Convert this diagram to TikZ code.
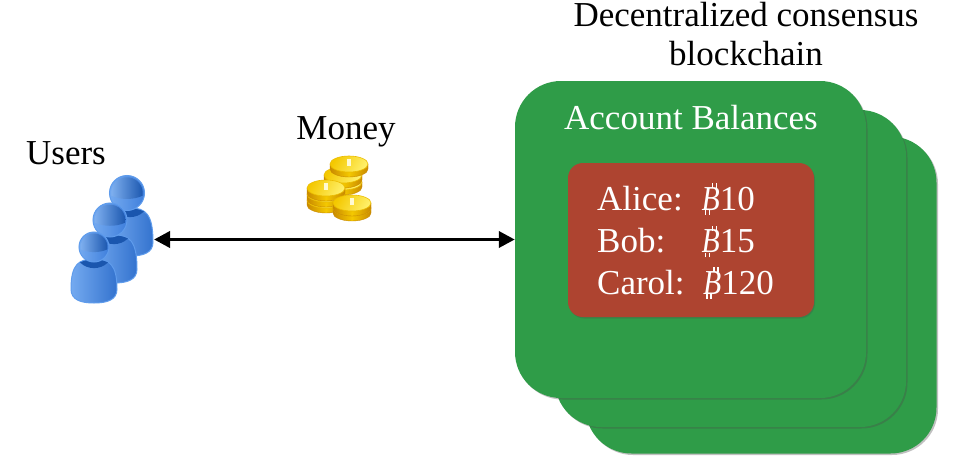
\documentclass[tikz,border=0pt]{standalone}
\usepackage{fontspec}
\setmainfont{Liberation Serif}
\usetikzlibrary{shadows,arrows.meta}
\definecolor{cardgreen}{HTML}{2F9C48}
\definecolor{cardred}{HTML}{AE4430}
\definecolor{pdark}{HTML}{1A56AE}
\definecolor{pmid}{HTML}{3F7FDC}
\definecolor{plight}{HTML}{74AAF0}
\definecolor{pedge}{HTML}{5F9CEC}
\definecolor{gdark}{HTML}{C98A00}
\definecolor{gmid}{HTML}{F4C800}
\definecolor{glight}{HTML}{FFF06A}
\newcommand{\btc}{\leavevmode\scalebox{.85}[1]{\rlap{\kern.33em\raisebox{.63em}{\rule{.055em}{.14em}}\kern.08em\raisebox{.63em}{\rule{.055em}{.14em}}}\rlap{\kern.10em\raisebox{-.13em}{\rule{.055em}{.13em}}\kern.08em\raisebox{-.13em}{\rule{.055em}{.13em}}}\textit{B}}}
\newcommand{\personfig}[7]{%
 \path[draw=pedge,line width=1pt,left color=plight,right color=pmid!70!pdark]
  (#4,#7-14) .. controls (#4,#6+5) and ({(#4+#5)/2-15},#6) .. ({(#4+#5)/2},#6)
  .. controls ({(#4+#5)/2+15},#6) and (#5,#6+5) .. (#5,#7-14)
  .. controls (#5,#7-3) and (#5-10,#7) .. ({(#4+#5)/2},#7)
  .. controls (#4+10,#7) and (#4,#7-3) .. (#4,#7-14) -- cycle;
 \path[fill=pdark] ({(#4+#5)/2-14},#6+3.5) .. controls ({(#4+#5)/2-6},#6-.5) and ({(#4+#5)/2+6},#6-.5) .. ({(#4+#5)/2+14},#6+3.5)
  .. controls ({(#4+#5)/2+6},#6+11) and ({(#4+#5)/2-6},#6+11) .. ({(#4+#5)/2-14},#6+3.5) -- cycle;
 \path[draw=pedge,line width=1pt,left color=plight,right color=pmid] (#1,#2) circle[radius=#3];
 \path[left color=plight!90!white,right color=pdark] (#1-#3*.886,#2+#3*.156) arc[start angle=170,end angle=370,radius=#3*.9]
  .. controls (#1+#3*.4,#2+#3*.4) and (#1-#3*.4,#2+#3*.4) .. cycle;
}
\newcommand{\coinfig}[2]{%
 \path[draw=gdark,line width=.4pt,left color=gdark,right color=gdark,middle color=gmid] (#1-19,#2) -- (#1-19,#2+5) arc[start angle=180,end angle=0,x radius=19,y radius=8] -- (#1+19,#2) -- cycle;
 \path[draw=gmid!80!gdark,line width=.6pt,left color=gmid,right color=glight,shading angle=60] (#1,#2) ellipse[x radius=19,y radius=8];
}
\newcommand{\coinmark}[2]{\fill[white!70!glight] (#1-2,#2-5) rectangle (#1+2,#2+2);}
\begin{document}
\begin{tikzpicture}[x=1pt,y=-1pt,
  card/.style={draw=none,fill=cardgreen,rounded corners=46pt,minimum width=351pt,minimum height=317pt,inner sep=0pt,
    drop shadow={shadow xshift=1.5pt,shadow yshift=-1.5pt,opacity=.35,fill=black!70}},
  redbox/.style={fill=cardred,rounded corners=15pt,minimum width=246pt,minimum height=154pt,inner sep=0pt,
    drop shadow={shadow xshift=1pt,shadow yshift=-1.5pt,opacity=.3,fill=black!70}},
  label/.style={font=\fontsize{35}{38.5}\selectfont,inner sep=0pt,text=black,align=center},
  wlabel/.style={font=\fontsize{35}{38}\selectfont,inner sep=0pt,text=white,anchor=base west},
  link/.style={line width=3.6pt,{Triangle[length=16pt,width=16pt]}-{Triangle[length=16pt,width=16pt]}}]
\useasboundingbox (0,0) rectangle (953,460);
\fill[white] (0,0) rectangle (953,460);
\node[card] (c3) at (761,295) {};
\node[card] (c2) at (730.5,268.5) {};
\node[card] (c1) at (690.5,239.5) {};
\node[redbox] (bal) at (691,240) {};
\node[label] (title) at (746,34) {Decentralized consensus\\blockchain};
\node[label,text=white] (acct) at (691,118) {Account Balances};
\node[wlabel] (n1) at (597,210) {Alice:};
\node[wlabel] (v1) at (701.5,210) {\btc10};
\node[wlabel] (n2) at (597,252.7) {Bob:};
\node[wlabel] (v2) at (701.5,252.7) {\btc15};
\node[wlabel] (n3) at (597,294) {Carol:};
\node[wlabel] (v3) at (703,294) {\btc120};
\node[label] (users) at (66,153) {Users};
\node[label] (money) at (346,132) {Money};
\personfig{127}{193}{17.5}{107}{153}{208}{256}
\personfig{110}{220}{17}{91}{137}{235}{283}
\personfig{94}{247}{15}{71}{117}{259}{303}
\coinfig{343}{182}\coinfig{343}{175}
\coinfig{349}{164}
\coinmark{349}{164}
\coinfig{326}{200}\coinfig{326}{194}\coinfig{326}{188}
\coinmark{326}{188}
\coinfig{352}{208}\coinfig{352}{203}
\coinmark{352}{203}
\coordinate (uend) at (154,239.5);
\draw[link] (uend) -- (c1.west);
\end{tikzpicture}
\end{document}
